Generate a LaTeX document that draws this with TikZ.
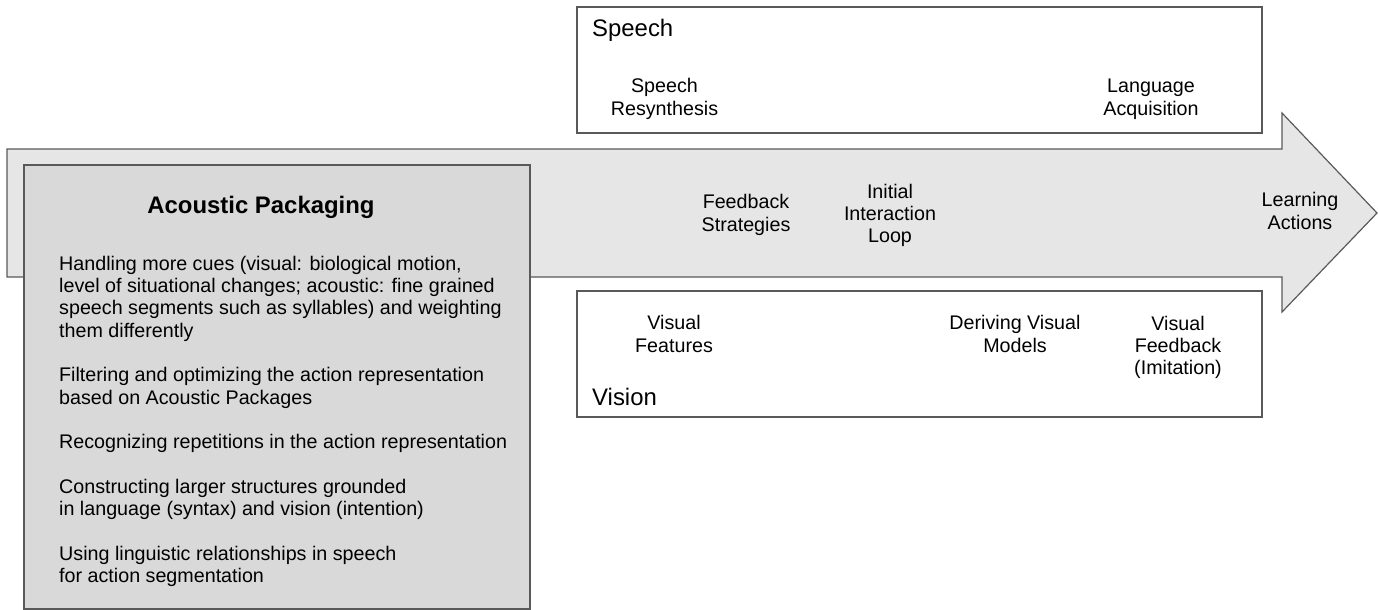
\documentclass[tikz,border=0pt]{standalone}
\usepackage{fontspec}
\setmainfont{Liberation Sans}
\definecolor{edge}{HTML}{595959}
\definecolor{arrowfill}{HTML}{E6E6E6}
\definecolor{packfill}{HTML}{D9D9D9}
\begin{document}
\begin{tikzpicture}[x=1pt,y=-1pt,
  frame/.style={draw=edge,line width=1.2pt},
  panel/.style={frame,fill=white,inner sep=0pt},
  % multi-line labels sit on the baseline of their last line
  label/.style={font=\fontsize{19.7}{22.33}\selectfont,inner sep=0pt,align=center,anchor=base},
  heading/.style={font=\fontsize{23.9}{28}\selectfont,inner sep=0pt,anchor=base west},
 ]
\useasboundingbox (0,0) rectangle (1378,610);

% big progress arrow
\coordinate (a1) at (7,149);
\coordinate (a2) at (1282,149);
\coordinate (a3) at (1282,113);
\coordinate (tip) at (1377,213);
\coordinate (a5) at (1282,312);
\coordinate (a6) at (1282,277);
\coordinate (a7) at (7,277);
\draw[frame,fill=arrowfill] (a1) -- (a2) -- (a3) -- (tip) -- (a5) -- (a6) -- (a7) -- cycle;

% speech and vision panels
\node[panel,minimum width=685pt,minimum height=126pt] (speech) at (919.5,70) {};
\node[panel,minimum width=685pt,minimum height=126pt] (vision) at (919.5,354) {};

% acoustic packaging panel
\node[frame,fill=packfill,inner sep=0pt,minimum width=506pt,minimum height=444pt] (pack) at (277,387) {};

% headings
\node[heading] (speechtitle) at (592,37) {Speech};
\node[heading] (visiontitle) at (592,405) {Vision};
\node[font=\fontsize{23.9}{28}\selectfont\bfseries,inner sep=0pt,anchor=base] (packtitle) at (261,213) {Acoustic Packaging};

% speech topics
\node[label] (resyn) at (664.5,115.3) {Speech\\Resynthesis};
\node[label] (lang) at (1151,115.3) {Language\\Acquisition};

% topics along the arrow
\node[label] (feedback) at (746,231.3) {Feedback\\Strategies};
\node[label] (loop) at (890,242.7) {Initial\\Interaction\\Loop};
\node[label] (learning) at (1300,229.3) {Learning\\Actions};

% vision topics
\node[label] (vfeat) at (674,352.3) {Visual\\Features};
\node[label] (vmodel) at (1015,352.3) {Deriving Visual\\Models};
\node[label] (vfb) at (1178,374.7) {Visual\\Feedback\\(Imitation)};

% acoustic packaging items
\node[label,align=left,anchor=base west] (packitems) at (59,582.7) {%
Handling more cues (visual: biological motion,\\
level of situational changes; acoustic: fine grained\\
speech segments such as syllables) and weighting\\
them differently\\[22.33pt]
Filtering and optimizing the action representation\\
based on Acoustic Packages\\[22.33pt]
Recognizing repetitions in the action representation\\[22.33pt]
Constructing larger structures grounded\\
in language (syntax) and vision (intention)\\[22.33pt]
Using linguistic relationships in speech\\
for action segmentation};
\end{tikzpicture}
\end{document}
